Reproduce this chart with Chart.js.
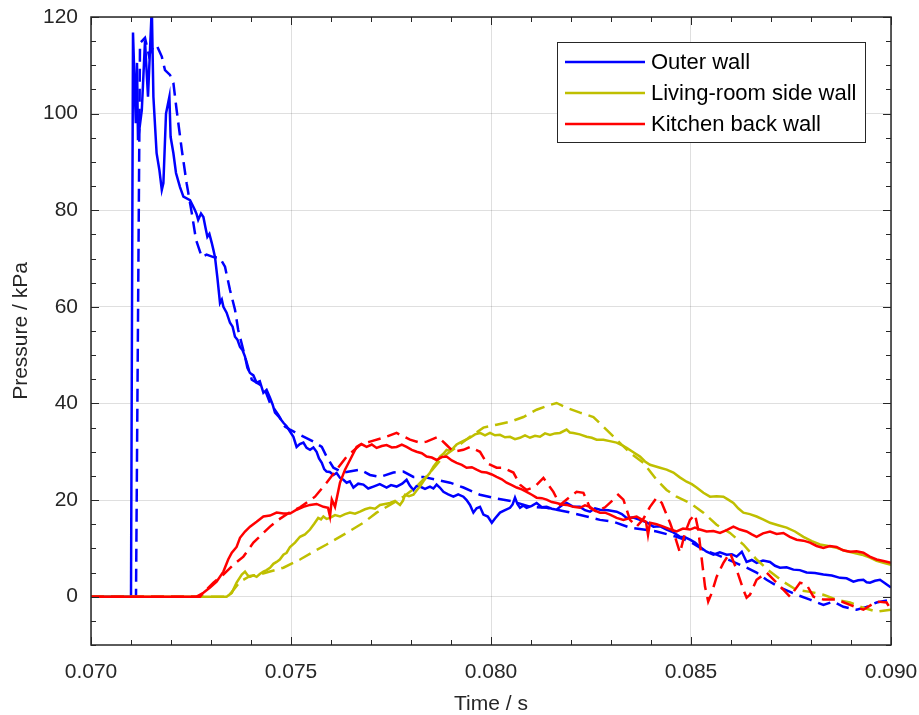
<!DOCTYPE html>
<html>
<head>
<meta charset="utf-8">
<title>Wall pressure</title>
<script src="https://cdn.jsdelivr.net/npm/chart.js@4.4.1/dist/chart.umd.min.js"></script>
<style>
  html, body { margin: 0; padding: 0; background: #fff; }
  #wrap { width: 919px; height: 715px; }
</style>
</head>
<body>
<div id="wrap"><canvas id="chart" width="919" height="715"></canvas></div>
<script>
// ── Data (time in ms, pressure in kPa) ───────────────────────────────────────
// measured traces (solid) as [t, p] pairs
const outerMeas = [[70,0],[71.0,0],[71.05,116.8],[71.12,98],[71.15,110.5],[71.175,94.5],[71.27,100.7],[71.35,115],[71.425,103.5],[71.52,122],[71.56,103.5],[71.64,91.8],[71.71,88.3],[71.77,84.2],[71.81,85.6],[71.875,100],[71.96,103.5],[71.99,95.2],[72.06,91.8],[72.125,87.7],[72.225,84.8],[72.31,82.8],[72.475,82.1],[72.54,81.0],[72.6,80],[72.64,79.2],[72.68,78],[72.75,79.3],[72.81,78.6],[72.86,76.5],[72.91,74.5],[72.96,75.1],[73.02,73.2],[73.06,71.8],[73.1,70.3],[73.16,66],[73.225,60.8],[73.27,61.5],[73.31,60],[73.39,58.8],[73.475,56.7],[73.54,55.9],[73.6,53.8],[73.66,53.2],[73.725,51.7],[73.79,51.0],[73.85,49.7],[73.91,47.4],[73.975,46.3],[74.06,45.8],[74.14,44.3],[74.22,44.6],[74.31,42.2],[74.39,42.8],[74.475,41.2],[74.54,39.8],[74.6,38.1],[74.7,37.2],[74.81,36],[74.89,35.3],[74.975,34.2],[75.06,33.1],[75.14,31],[75.22,31.6],[75.31,31.9],[75.39,30.8],[75.475,30.4],[75.56,30.9],[75.64,30],[75.7,28.6],[75.77,27.7],[75.83,26.4],[75.89,25.9],[75.97,25.8],[76.06,25.2],[76.14,25.6],[76.225,24.6],[76.31,24.2],[76.39,23.6],[76.47,23.9],[76.56,22.6],[76.68,23.4],[76.81,23.2],[76.93,22.4],[77.06,22.8],[77.22,23.3],[77.39,22.6],[77.5,23.1],[77.64,22.8],[77.78,23.4],[77.89,24.2],[77.97,23.0],[78.06,22.1],[78.14,22.9],[78.225,22.8],[78.35,22.3],[78.475,22.8],[78.56,22.4],[78.64,23.2],[78.72,22.6],[78.81,21.7],[78.93,21.2],[79.06,20.7],[79.18,21.2],[79.31,20.7],[79.39,20.0],[79.475,19],[79.56,17.4],[79.64,18.3],[79.725,18.6],[79.81,17],[79.92,16.6],[80.02,15.3],[80.1,16.2],[80.225,17.4],[80.35,17.9],[80.475,18.4],[80.54,19.1],[80.6,20.5],[80.66,19.2],[80.725,18.4],[80.81,18.9],[80.89,18.4],[81.02,18.8],[81.14,19.4],[81.27,18.5],[81.39,18.6],[81.52,18.2],[81.64,18],[81.77,18.9],[81.89,19.4],[82.06,18.6],[82.225,18.6],[82.35,17.9],[82.475,17.6],[82.6,18.3],[82.725,18],[82.93,17.9],[83.14,17.6],[83.27,17.1],[83.39,16.3],[83.56,16.4],[83.725,15.9],[83.89,15.4],[84.06,14.5],[84.22,14.6],[84.39,13.9],[84.56,13.3],[84.725,12.4],[84.85,12.3],[84.975,11.8],[85.1,11.2],[85.225,10.3],[85.39,9.3],[85.56,8.7],[85.72,9.2],[85.89,8.7],[86.02,8.8],[86.14,8.3],[86.27,9.3],[86.39,7.2],[86.52,7.6],[86.64,7],[86.8,7.5],[86.975,7.2],[87.1,6.4],[87.225,6],[87.39,6.1],[87.56,5.6],[87.72,5.5],[87.89,5],[88.1,4.9],[88.31,4.6],[88.52,4.4],[88.725,3.9],[88.89,3.8],[89.06,3.1],[89.18,3.4],[89.31,3.5],[89.39,3.0],[89.475,2.9],[89.6,3.3],[89.725,3.5],[89.85,2.8],[90.0,1.9]];

const livingMeas = [[70,0],[73.39,0],[73.52,0.8],[73.64,2.9],[73.77,4.6],[73.85,5.2],[73.91,4.5],[73.975,4.1],[74.06,4.4],[74.14,4.1],[74.22,4.7],[74.31,5.2],[74.39,5.5],[74.475,6],[74.56,6.8],[74.64,7.2],[74.72,7.7],[74.81,8.7],[74.89,9.1],[74.975,10.3],[75.1,11.2],[75.225,12.4],[75.35,12.9],[75.475,13.9],[75.58,15.1],[75.68,16.3],[75.75,16.0],[75.81,16.6],[75.89,16.1],[75.975,16.3],[76.1,16.9],[76.225,16.6],[76.35,17.1],[76.475,17.4],[76.6,17.2],[76.725,17.6],[76.85,18.1],[76.975,18.4],[77.1,18.2],[77.225,19],[77.35,19.2],[77.475,19.4],[77.6,19.8],[77.725,19],[77.8,19.9],[77.85,21.1],[77.95,20.8],[78.06,21.1],[78.14,22.0],[78.225,22.8],[78.31,23.9],[78.39,24.8],[78.47,25.6],[78.56,26.9],[78.64,27.8],[78.725,29],[78.81,29.6],[78.89,30.4],[78.97,30.2],[79.06,30.8],[79.14,31.5],[79.225,31.9],[79.35,32.4],[79.475,32.9],[79.6,33.6],[79.725,33.9],[79.85,33.4],[79.975,33.9],[80.1,33.4],[80.225,33.5],[80.35,33.0],[80.475,33.1],[80.6,32.6],[80.725,32.9],[80.85,33.4],[80.975,32.9],[81.1,33.3],[81.225,33.1],[81.35,33.8],[81.475,33.5],[81.6,33.8],[81.725,33.9],[81.89,34.6],[81.97,34.0],[82.06,33.9],[82.22,33.6],[82.39,33.1],[82.52,32.9],[82.64,32.5],[82.81,32.5],[82.97,32.2],[83.14,31.9],[83.27,31.4],[83.39,30.8],[83.56,29.9],[83.725,29],[83.85,28.0],[83.975,27.3],[84.1,27.0],[84.225,26.7],[84.39,26.3],[84.56,25.7],[84.72,24.7],[84.89,23.8],[85.02,23.3],[85.14,22.6],[85.31,21.5],[85.475,20.7],[85.64,20.8],[85.81,20.7],[85.93,20.1],[86.06,19.4],[86.18,18.3],[86.31,17.4],[86.47,17.1],[86.64,16.6],[86.8,16.0],[86.975,15.3],[87.18,14.8],[87.39,14.3],[87.6,13.5],[87.81,12.4],[88.02,11.5],[88.225,10.8],[88.43,10.5],[88.64,10.1],[88.85,9.5],[89.06,9.1],[89.27,8.7],[89.475,8.1],[89.64,7.4],[89.81,7],[90.0,6.6]];

const kitchenMeas = [[70,0],[72.64,0],[72.81,0.8],[72.975,1.9],[73.14,3.1],[73.31,5.2],[73.43,7.7],[73.52,9.1],[73.64,10.3],[73.725,12.2],[73.85,13.5],[73.975,14.5],[74.14,15.5],[74.31,16.6],[74.475,16.8],[74.64,17.4],[74.81,17.2],[74.975,17.2],[75.14,18],[75.31,18.6],[75.475,19],[75.64,19.2],[75.81,18.6],[75.925,18.4],[75.975,16.6],[76.02,20.1],[76.1,18.6],[76.225,23.6],[76.35,26.3],[76.475,28.3],[76.64,31],[76.76,31.6],[76.89,31],[77.02,31.5],[77.14,30.8],[77.27,31.2],[77.39,31.4],[77.52,30.9],[77.64,31],[77.77,31.5],[77.89,31],[78.02,30.4],[78.14,30],[78.27,29.7],[78.39,29],[78.52,28.8],[78.64,28.3],[78.77,28.9],[78.89,29],[79.02,28.2],[79.14,27.7],[79.27,27.3],[79.39,26.7],[79.52,26.8],[79.64,26.3],[79.77,25.8],[79.89,25.7],[80.02,25.3],[80.14,24.8],[80.27,24.3],[80.39,23.6],[80.52,23.1],[80.64,22.6],[80.77,22.2],[80.89,21.7],[81.02,21.1],[81.14,20.5],[81.27,20.4],[81.39,20.1],[81.52,19.6],[81.64,19.4],[81.77,19.1],[81.89,19],[82.06,18.6],[82.225,18.4],[82.35,18.9],[82.475,18.6],[82.6,17.8],[82.725,17.4],[82.85,17.4],[82.975,17],[83.14,16.3],[83.31,15.9],[83.47,16.3],[83.64,16.6],[83.76,16.0],[83.875,15.5],[83.925,12.8],[83.975,15.3],[84.14,15.0],[84.31,14.5],[84.47,14.0],[84.64,13.5],[84.8,14.1],[84.975,13.9],[85.1,14.3],[85.225,13.9],[85.39,13.5],[85.56,13.6],[85.725,13.2],[85.89,13.8],[86.06,14.5],[86.22,13.9],[86.39,13.5],[86.52,12.9],[86.64,12.4],[86.8,13.1],[86.975,13.5],[87.14,13.0],[87.31,13.2],[87.47,12.4],[87.64,11.8],[87.81,11.6],[87.975,11.2],[88.14,10.5],[88.31,10.1],[88.47,10.5],[88.64,10.3],[88.8,9.6],[88.975,9.3],[89.14,9.4],[89.31,9.1],[89.47,8.3],[89.64,7.7],[89.81,7.4],[90.0,7]];

// simulated traces (dashed): times and pressures
const outerSimTms = [70, 71.125, 71.225, 71.35, 71.45, 71.56, 71.64, 71.77, 71.85, 71.975, 72.06, 72.14, 72.27, 72.39, 72.52, 72.625, 72.77, 72.89, 73.06, 73.225, 73.35, 73.475, 73.6, 73.68, 73.85, 74.02, 74.225, 74.35, 74.475, 74.68, 74.85, 74.975, 75.225, 75.56, 75.77, 75.89, 76.06, 76.31, 76.725, 76.975, 77.225, 77.56, 77.81, 78.06, 78.31, 78.64, 78.975, 79.31, 79.725, 80.14, 80.56, 80.975, 81.39, 81.89, 82.39, 82.725, 83.06, 83.475, 84.14, 84.64, 84.975, 85.31, 85.64, 86.06, 86.39, 86.64, 86.89, 87.225, 87.64, 87.975, 88.31, 88.56, 88.81, 89.14, 89.39, 89.64, 90.0];
const outerSimP = [0, 0, 114.6, 115.7, 112, 113.9, 114.2, 111.8, 109, 108, 106.3, 100.8, 92.5, 85.6, 79.4, 73.9, 70.3, 70.8, 70.3, 70.1, 68.3, 63.5, 59.4, 55.2, 49.7, 44.9, 43.9, 42.8, 40.1, 37.7, 35.2, 34.6, 33.5, 32.1, 31, 29, 26.7, 25.7, 26.3, 25.2, 24.8, 25.7, 25.9, 24.8, 24.8, 24.2, 23.6, 22.6, 21.1, 20.3, 19.7, 18.6, 18.4, 17.6, 16.6, 15.9, 15.5, 14.3, 13.5, 12.4, 11.4, 9.7, 8.7, 7.2, 6, 5, 3.5, 1.9, 0.4, -0.6, -1.7, -1, -2.1, -2.7, -2.1, -1.2, -0.6];

const livingSimTms = [70, 73.425, 73.725, 73.975, 74.225, 74.475, 74.81, 75.225, 75.56, 75.89, 76.39, 76.81, 77.14, 77.475, 77.81, 78.14, 78.475, 78.81, 79.14, 79.475, 79.81, 80.14, 80.475, 80.81, 81.14, 81.475, 81.64, 81.89, 82.225, 82.56, 82.81, 83.14, 83.475, 83.81, 84.14, 84.39, 84.64, 84.975, 85.31, 85.64, 85.975, 86.31, 86.64, 86.975, 87.31, 87.64, 87.975, 88.31, 88.64, 88.975, 89.31, 89.64, 90.0];
const livingSimP = [0, 0, 3.1, 4.3, 4.6, 5.2, 6, 7.7, 9.3, 10.8, 13.2, 15.3, 17.4, 19, 20.7, 22.8, 25.7, 29, 31, 33.1, 35, 35.6, 36.2, 37.2, 38.7, 39.7, 40.1, 39.1, 38.1, 37.2, 35.2, 32.5, 29.8, 27.7, 24.2, 22.1, 20.7, 19.4, 17.4, 14.9, 13.2, 10.8, 7.7, 5.2, 3.1, 1.4, 1, 0.4, -0.6, -1.2, -2.3, -3.1, -2.7];

const kitchenSimTms = [70, 72.725, 72.81, 73.06, 73.31, 73.56, 73.81, 74.06, 74.31, 74.475, 74.68, 74.975, 75.225, 75.6, 75.89, 76.14, 76.39, 76.725, 76.975, 77.31, 77.64, 77.975, 78.225, 78.39, 78.68, 78.89, 79.06, 79.31, 79.475, 79.725, 79.89, 80.14, 80.31, 80.56, 80.725, 80.89, 81.1, 81.31, 81.56, 81.725, 81.975, 82.14, 82.31, 82.475, 82.64, 82.85, 83.06, 83.18, 83.31, 83.475, 83.64, 83.8, 83.975, 84.14, 84.27, 84.475, 84.6, 84.725, 84.85, 84.975, 85.1, 85.18, 85.27, 85.35, 85.43, 85.52, 85.64, 85.81, 85.975, 86.14, 86.31, 86.39, 86.475, 86.64, 86.89, 87.14, 87.475, 87.725, 87.89, 88.06, 88.31, 88.64, 88.975, 89.31, 89.64, 89.89, 90.0];
const kitchenSimP = [0, 0, 0.8, 2.9, 4.6, 6.6, 8.3, 11.2, 13.2, 14.5, 15.9, 17.5, 18.5, 20.7, 23.6, 26.3, 29, 31.4, 32.1, 32.9, 33.9, 32.5, 31.9, 32.1, 33.1, 31.4, 30, 30.4, 31, 30, 27.7, 26.7, 26.7, 25.7, 23.2, 22.1, 22.8, 24.6, 21.7, 19, 20.7, 21.7, 21.5, 18.4, 17.6, 18.5, 20.1, 21.1, 20.1, 15.9, 14.5, 16, 18.6, 20.5, 19.4, 15.3, 12.4, 9.1, 13.2, 15.9, 17, 13.9, 7.7, 2.1, -1, 0.8, 4.1, 7, 9.1, 5.6, 1.4, -0.2, 0.4, 3.5, 5, 2.9, 0, 2.9, 2.5, 0, -0.6, -0.6, -1.7, -2.7, -1, -1.2, -2.7];

const legendLabels = ['Outer wall', 'Living-room side wall', 'Kitchen back wall'];

// ── Axes config ──────────────────────────────────────────────────────────────
const X_MIN = 0.070, X_MAX = 0.090, X_STEP = 0.005, X_MINOR = 0.001;
const Y_MIN = -10, Y_MAX = 120, Y_STEP = 20, Y_MINOR = 5;

const BLUE = '#0000FF', OLIVE = '#BFBF00', RED = '#FF0000';
const AXIS_COLOR = '#262626';
const FONT = "'Liberation Sans', Arial, sans-serif";
const LINE_W = 2.5;

const fromPairs = pairs => pairs.map(([t, p]) => ({ x: t / 1000, y: p }));
const fromArrays = (tms, p) => tms.map((t, i) => ({ x: t / 1000, y: p[i] }));

function series(label, data, color, dashed, order) {
    return {
        label, data,
        borderColor: color, backgroundColor: color,
        borderWidth: LINE_W,
        borderDash: dashed ? [13, 7] : [],
        pointRadius: 0, tension: 0, fill: false,
        inLegend: !dashed,
        order
    };
}

// ── Plugins ──────────────────────────────────────────────────────────────────
// box with inward major/minor ticks on all four sides
const boxAxes = {
    id: 'boxAxes',
    afterDatasetsDraw(chart) {
        const { ctx, chartArea: a, scales: { x, y } } = chart;
        ctx.save();
        ctx.strokeStyle = AXIS_COLOR;
        ctx.lineWidth = 1;
        ctx.beginPath();
        const nx = Math.round((X_MAX - X_MIN) / X_MINOR);
        const every = Math.round(X_STEP / X_MINOR);
        for (let i = 0; i <= nx; i++) {
            const px = Math.round(x.getPixelForValue(X_MIN + i * X_MINOR)) + 0.5;
            const len = i % every === 0 ? 8 : 5;
            ctx.moveTo(px, a.bottom); ctx.lineTo(px, a.bottom - len);
            ctx.moveTo(px, a.top); ctx.lineTo(px, a.top + len);
        }
        const ny = Math.round((Y_MAX - Y_MIN) / Y_MINOR);
        for (let i = 0; i <= ny; i++) {
            const v = Y_MIN + i * Y_MINOR;
            const py = Math.round(y.getPixelForValue(v)) + 0.5;
            const len = v % Y_STEP === 0 ? 8 : 5;
            ctx.moveTo(a.left, py); ctx.lineTo(a.left + len, py);
            ctx.moveTo(a.right, py); ctx.lineTo(a.right - len, py);
        }
        ctx.stroke();
        ctx.lineWidth = 1.5;
        ctx.strokeRect(a.left, a.top, a.right - a.left, a.bottom - a.top);
        ctx.restore();
    }
};

// legend box in the upper right, solid series only
const boxLegend = {
    id: 'boxLegend',
    afterDraw(chart) {
        const { ctx, chartArea: a } = chart;
        const items = chart.data.datasets.filter(d => d.inLegend)
            .sort((p, q) => legendLabels.indexOf(p.label) - legendLabels.indexOf(q.label));
        const w = 308, h = 100;
        const bx = a.right - 26 - w, by = a.top + 25;
        ctx.save();
        ctx.fillStyle = '#fff';
        ctx.fillRect(bx, by, w, h);
        ctx.strokeStyle = AXIS_COLOR;
        ctx.lineWidth = 1;
        ctx.strokeRect(bx + 0.5, by + 0.5, w, h);
        ctx.font = `22px ${FONT}`;
        ctx.textBaseline = 'middle';
        ctx.fillStyle = '#000';
        items.forEach((d, i) => {
            const ry = by + 20 + i * 31;
            ctx.strokeStyle = d.borderColor;
            ctx.lineWidth = LINE_W;
            ctx.beginPath();
            ctx.moveTo(bx + 8, ry); ctx.lineTo(bx + 88, ry);
            ctx.stroke();
            ctx.fillText(d.label, bx + 94, ry + 1);
        });
        ctx.restore();
    }
};

// ── Chart ────────────────────────────────────────────────────────────────────
const gridColor = 'rgba(38,38,38,0.15)';
const tickFont = { family: FONT, size: 21 };
const titleFont = { family: FONT, size: 21, lineHeight: 1.05 };

new Chart(document.getElementById('chart'), {
    type: 'line',
    data: {
        datasets: [
            series('Outer wall', fromPairs(outerMeas), BLUE, false, 5),
            series('Living-room side wall', fromPairs(livingMeas), OLIVE, false, 3),
            series('Kitchen back wall', fromPairs(kitchenMeas), RED, false, 1),
            series('Outer wall (sim)', fromArrays(outerSimTms, outerSimP), BLUE, true, 6),
            series('Living-room side wall (sim)', fromArrays(livingSimTms, livingSimP), OLIVE, true, 4),
            series('Kitchen back wall (sim)', fromArrays(kitchenSimTms, kitchenSimP), RED, true, 2)
        ]
    },
    options: {
        responsive: false,
        animation: false,
        devicePixelRatio: 1,
        layout: { padding: { left: 0, right: 28, top: 17, bottom: 0 } },
        plugins: { legend: { display: false }, tooltip: { enabled: false } },
        scales: {
            x: {
                type: 'linear', min: X_MIN, max: X_MAX,
                afterFit: s => { s.height = 70; s.paddingLeft = 0; s.paddingRight = 0; },
                grid: { color: gridColor, drawTicks: false },
                border: { display: false },
                ticks: {
                    stepSize: X_STEP, padding: 15, color: AXIS_COLOR,
                    font: tickFont, maxRotation: 0,
                    callback: v => v.toFixed(3)
                },
                title: {
                    display: true, text: 'Time / s', color: AXIS_COLOR,
                    font: titleFont, padding: { top: 0, bottom: 0 }
                }
            },
            y: {
                type: 'linear', min: Y_MIN, max: Y_MAX,
                afterFit: s => { s.width = 91; s.paddingTop = 0; s.paddingBottom = 0; },
                grid: { color: gridColor, drawTicks: false },
                border: { display: false },
                ticks: {
                    stepSize: Y_STEP, includeBounds: false, padding: 13, color: AXIS_COLOR,
                    font: tickFont
                },
                title: {
                    display: true, text: 'Pressure / kPa', color: AXIS_COLOR,
                    font: titleFont, padding: { top: 10, bottom: 0 }
                }
            }
        }
    },
    plugins: [boxAxes, boxLegend]
});
</script>
</body>
</html>
